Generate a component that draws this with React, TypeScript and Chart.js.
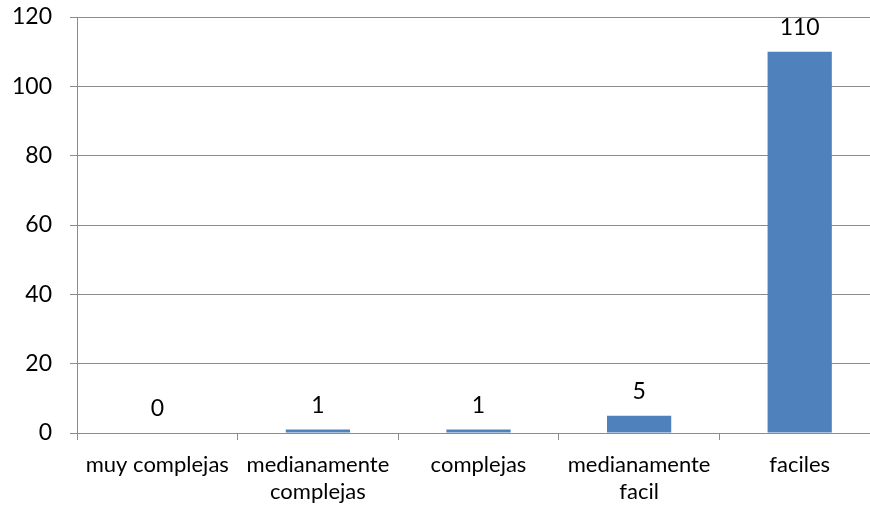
import React, { useEffect, useRef } from "react";
import { Chart, registerables } from "chart.js";

Chart.register(...registerables);

const categories: (string | string[])[] = [
  "muy complejas",
  ["medianamente", "complejas"],
  "complejas",
  ["medianamente", "facil"],
  "faciles",
];
const values: number[] = [0, 1, 1, 5, 110];
const yTicks: number[] = [0, 20, 40, 60, 80, 100, 120];

const FONT = "Lato, 'Open Sans', sans-serif";
const GRID = "#8c8c8c";

const valueLabels = {
  id: "valueLabels",
  afterDatasetsDraw(chart: any) {
    const ctx = chart.ctx;
    const meta = chart.getDatasetMeta(0);
    ctx.save();
    ctx.font = `23px ${FONT}`;
    ctx.fillStyle = "#000";
    ctx.textAlign = "center";
    ctx.textBaseline = "alphabetic";
    meta.data.forEach((bar: any, i: number) => {
      ctx.fillText(String(values[i]), bar.x, bar.y - 17);
    });
    ctx.restore();
  },
};

export default function App() {
  const ref = useRef<HTMLCanvasElement>(null);
  useEffect(() => {
    if (!ref.current) return;
    const chart = new Chart(ref.current, {
      type: "bar",
      data: {
        labels: categories,
        datasets: [
          {
            data: values,
            backgroundColor: "#4F81BD",
            categoryPercentage: 1,
            barPercentage: 0.4,
          },
        ],
      },
      options: {
        responsive: false,
        animation: false,
        devicePixelRatio: 1,
        layout: { padding: { top: 17, right: 20, left: 0, bottom: 0 } },
        plugins: { legend: { display: false }, tooltip: { enabled: false } },
        scales: {
          x: {
            offset: true,
            grid: {
              offset: true,
              drawOnChartArea: false,
              drawTicks: true,
              tickLength: 7,
              color: GRID,
            },
            border: { display: true, color: GRID },
            ticks: {
              color: "#000",
              font: { family: FONT, size: 22, lineHeight: 1.21 },
              padding: 12,
              maxRotation: 0,
              autoSkip: false,
            },
            afterFit(scale: any) {
              scale.height = 74;
              scale.paddingLeft = 0;
              scale.paddingRight = 0;
            },
          },
          y: {
            min: 0,
            max: 120,
            afterBuildTicks(scale: any) {
              scale.ticks = yTicks.map((v) => ({ value: v }));
            },
            grid: { color: GRID, tickLength: 7, drawTicks: true },
            border: { display: true, color: GRID },
            ticks: {
              color: "#000",
              font: { family: FONT, size: 23 },
              padding: 18,
            },
            afterFit(scale: any) {
              scale.width = 77;
              scale.paddingTop = 0;
              scale.paddingBottom = 0;
            },
          },
        },
      },
      plugins: [valueLabels],
    });
    return () => chart.destroy();
  }, []);
  return (
    <div
      style={{
        position: "fixed",
        left: 0,
        top: 0,
        width: 870,
        height: 507,
        overflow: "hidden",
        background: "#fff",
      }}
    >
      <canvas ref={ref} width={900} height={507} style={{ display: "block" }} />
    </div>
  );
}
